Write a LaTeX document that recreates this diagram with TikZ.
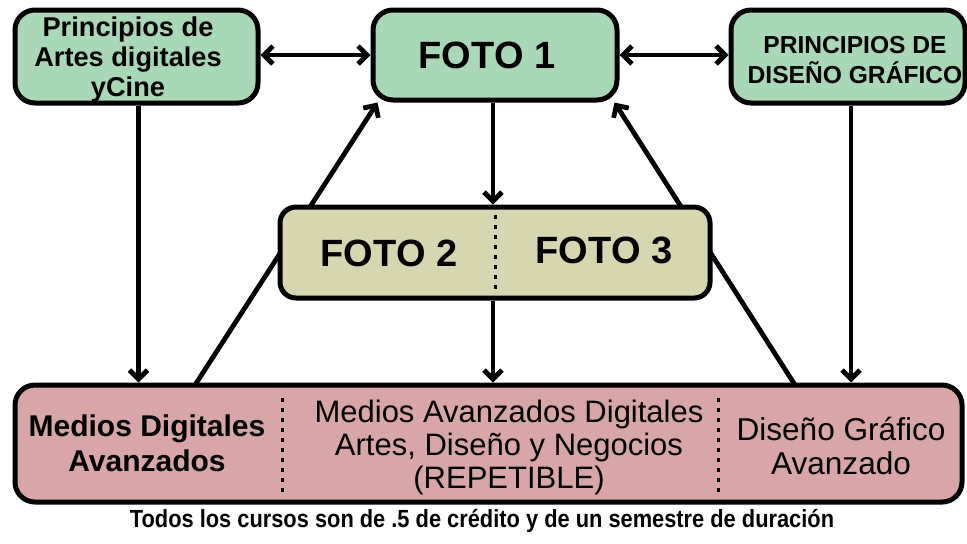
\documentclass[tikz,border=0pt]{standalone}
\usepackage{fontspec}
\setmainfont{Liberation Sans}
\newfontfamily\estrecha[FakeStretch = 0.88]{Liberation Sans}
\usetikzlibrary{arrows.meta, backgrounds}

\definecolor{verdecaja}{RGB}{168,216,181}
\definecolor{cajafoto}{RGB}{214,214,176}
\definecolor{cajacurso}{RGB}{216,166,166}

\tikzset{
    caja/.style = {draw = black, line width = 2.5pt, rounded corners = 10pt, inner sep = 0pt},
    verde/.style = {caja, fill = verdecaja},
    flecha/.style = {line width = 2.4pt, ->},
    separa/.style = {black, line width = 1.5pt, dash pattern = on 2pt off 3pt}
}

\begin{document}
\begin{tikzpicture}[x = 0.5pt, y = -0.5pt, >={Straight Barb[length=4.5pt, width=9pt]}]
            \useasboundingbox (0, 0) rectangle (967, 543);

            % cajas de arriba
            \node[verde, minimum width = 121.5pt, minimum height = 46.5pt] (artes) at (136.5, 56.5) {};
            \node[verde, minimum width = 122pt, minimum height = 45pt] (foto1) at (495, 55) {};
            \node[verde, minimum width = 117pt, minimum height = 46.5pt] (diseno) at (848, 56.5) {};

            \node[align = center, font = \bfseries\fontsize{13.6}{15}\selectfont] (t_artes) at (128, 59) {Principios de\\Artes digitales\\yCine};
            \node[font = \bfseries\fontsize{19}{22}\selectfont] (t_foto1) at (487, 55) {FOTO 1};
            \node[align = center, font = \bfseries\fontsize{12.3}{15}\selectfont] (t_diseno) at (855, 60) {PRINCIPIOS DE\\DISEÑO GRÁFICO};

            % caja del medio
            \node[caja, rounded corners = 8pt, fill = cajafoto, minimum width = 215pt, minimum height = 45.5pt] (fotos) at (495, 252.5) {};
            \draw[separa] (495, 215) -- (495, 292);
            \node[font = \bfseries\fontsize{19}{22}\selectfont] (t_foto2) at (389, 253) {FOTO 2};
            \node[font = \bfseries\fontsize{19}{22}\selectfont] (t_foto3) at (604, 250) {FOTO 3};

            % caja de abajo
            \node[caja, fill = cajacurso, minimum width = 473.5pt, minimum height = 58.5pt] (cursos) at (488.5, 443.5) {};
            \draw[separa] (282, 398) -- (282, 492);
            \draw[separa] (718, 398) -- (718, 492);
            \node[align = center, font = \bfseries\fontsize{15}{17.5}\selectfont] (t_medios) at (147, 443) {Medios Digitales\\Avanzados};
            \node[align = center, font = \fontsize{15.5}{16.5}\selectfont] (t_avanz) at (509, 447) {Medios Avanzados Digitales\\Artes, Diseño y Negocios\\(REPETIBLE)};
            \node[align = center, font = \fontsize{15.8}{17}\selectfont] (t_grafico) at (841, 446) {Diseño Gráfico\\Avanzado};

            \node[font = \estrecha\bfseries\fontsize{12.4}{14}\selectfont] (nota) at (482, 521) {Todos los cursos son de .5 de crédito y de un semestre de duración};

            % flechas
            \coordinate (sal_izq) at (195, 385);
            \coordinate (sal_der) at (795, 385);
            \coordinate (lleg_izq) at ([xshift = 3.5pt]foto1.south west);
            \coordinate (lleg_der) at ([xshift = -2.5pt]foto1.south east);

            \begin{pgfonlayer}{background}
                \draw[flecha] (sal_izq) -- (lleg_izq);
                \draw[flecha] (sal_der) -- (lleg_der);
            \end{pgfonlayer}

            \draw[flecha, <->] (foto1.west -| artes.east) -- (foto1.west);
            \draw[flecha, <->] (foto1.east) -- (foto1.east -| diseno.west);

            \draw[flecha] ([xshift = 1pt]artes.south) -- ([xshift = 1pt]artes.south |- cursos.north);
            \draw[flecha] ([xshift = 1.5pt]diseno.south) -- ([xshift = 1.5pt]diseno.south |- cursos.north);
            \draw[flecha] ([xshift = -1pt]foto1.south) -- ([xshift = -1pt]fotos.north);
            \draw[flecha] ([xshift = -1pt]fotos.south) -- ([xshift = -1pt]fotos.south |- cursos.north);
        \end{tikzpicture}
\end{document}
